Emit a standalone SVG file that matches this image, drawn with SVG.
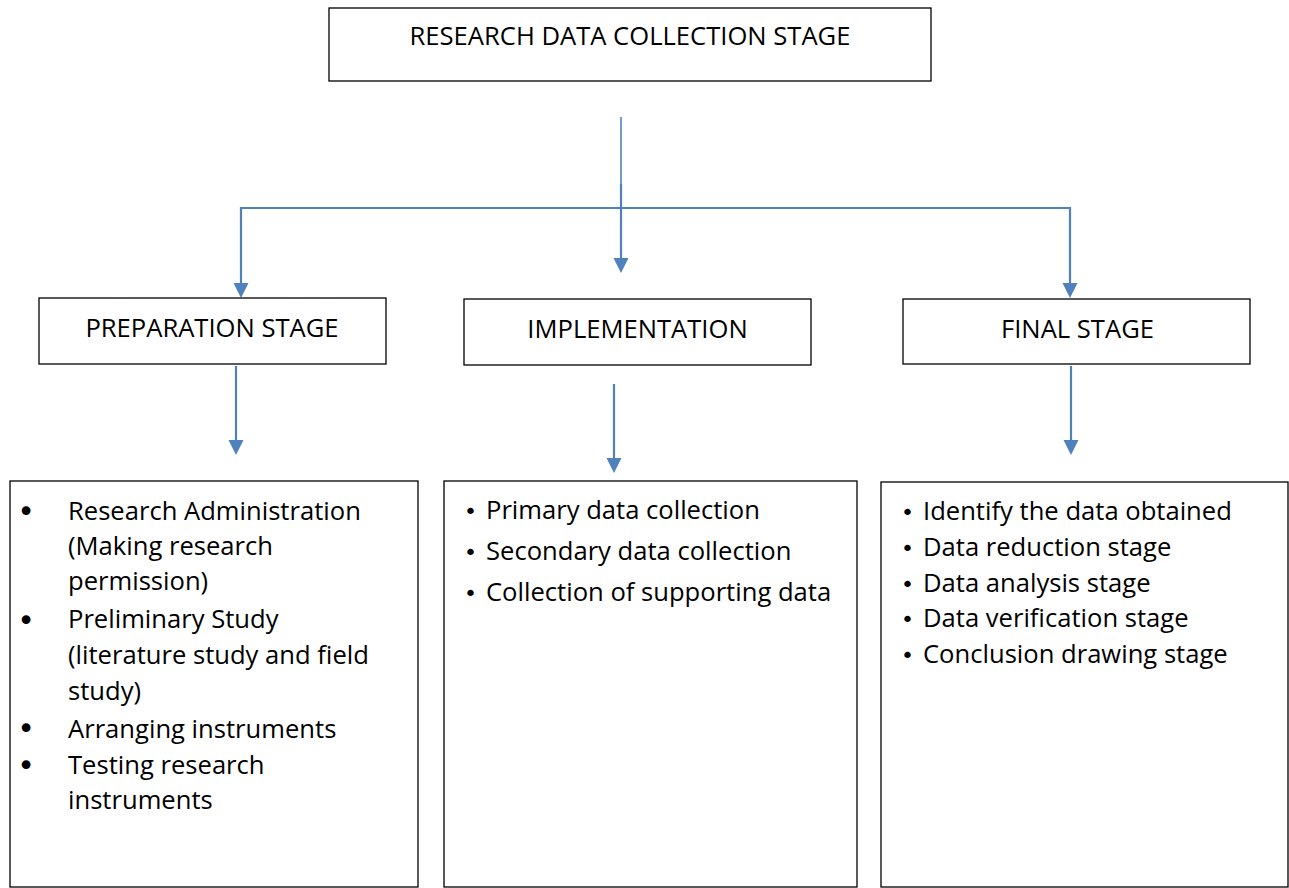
<svg xmlns="http://www.w3.org/2000/svg" width="1289" height="888" viewBox="0 0 1289 888">
<style>
.box{fill:#fff;stroke:#000;stroke-width:1.3}
.t{font-family:"Open Sans","Liberation Sans",sans-serif;font-size:25.6px;fill:#000}
.c{text-anchor:middle}
.con{stroke:#4F81BD;stroke-width:2.2;fill:none}
.b{font-family:"DejaVu Sans",sans-serif;font-size:30px;text-anchor:middle;fill:#000}
.s{font-family:"DejaVu Sans",sans-serif;font-size:22px}
</style>
<rect width="1289" height="888" fill="#fff"/>
<g id="connectors">
<line class="con" x1="621" y1="117" x2="621" y2="185" style="stroke-width:1.6"/>
<path class="con" d="M621,184 V258"/>
<polygon points="613.5,258 628.5,258 621,273" fill="#4F81BD"/>
<path class="con" d="M241,283 V208 H1070 V283"/>
<polygon points="233.5,283 248.5,283 241,298" fill="#4F81BD"/>
<polygon points="1062.5,283 1077.5,283 1070,298" fill="#4F81BD"/>
<path class="con" d="M236,366 V440"/>
<polygon points="228.5,440 243.5,440 236,455" fill="#4F81BD"/>
<path class="con" d="M614,384 V458"/>
<polygon points="606.5,458 621.5,458 614,473" fill="#4F81BD"/>
<path class="con" d="M1071,366 V440"/>
<polygon points="1063.5,440 1078.5,440 1071,455" fill="#4F81BD"/>
</g>
<g id="root">
<rect class="box" x="329" y="8" width="602" height="73"/>
<text class="t c" x="630" y="45">RESEARCH DATA COLLECTION STAGE</text>
</g>
<g id="preparation">
<rect class="box" x="39" y="298" width="347" height="66"/>
<text class="t c" x="212" y="337">PREPARATION STAGE</text>
</g>
<g id="implementation">
<rect class="box" x="464" y="299" width="347" height="66"/>
<text class="t c" x="637.5" y="338">IMPLEMENTATION</text>
</g>
<g id="final">
<rect class="box" x="903" y="299" width="347" height="65"/>
<text class="t c" x="1077.5" y="338">FINAL STAGE</text>
</g>
<g id="preparation-list">
<rect class="box" x="10" y="481" width="408" height="406"/>
<text class="b" x="26" y="522">•</text>
<text class="t" x="68" y="520">Research Administration</text>
<text class="t" x="68" y="555">(Making research</text>
<text class="t" x="68" y="590">permission)</text>
<text class="b" x="26" y="631">•</text>
<text class="t" x="68" y="628">Preliminary Study</text>
<text class="t" x="68" y="664">(literature study and field</text>
<text class="t" x="68" y="700">study)</text>
<text class="b" x="26" y="739">•</text>
<text class="t" x="68" y="738">Arranging instruments</text>
<text class="b" x="26" y="776">•</text>
<text class="t" x="68" y="774">Testing research</text>
<text class="t" x="68" y="809">instruments</text>
</g>
<g id="implementation-list">
<rect class="box" x="444" y="481" width="413" height="406"/>
<text class="t" y="519"><tspan class="s" x="464">•</tspan><tspan x="486">Primary data collection</tspan></text>
<text class="t" y="560"><tspan class="s" x="464">•</tspan><tspan x="486">Secondary data collection</tspan></text>
<text class="t" y="601"><tspan class="s" x="464">•</tspan><tspan x="486">Collection of supporting data</tspan></text>
</g>
<g id="final-list">
<rect class="box" x="881" y="482" width="407" height="405"/>
<text class="t" y="520"><tspan class="s" x="901">•</tspan><tspan x="923">Identify the data obtained</tspan></text>
<text class="t" y="556"><tspan class="s" x="901">•</tspan><tspan x="923">Data reduction stage</tspan></text>
<text class="t" y="592"><tspan class="s" x="901">•</tspan><tspan x="923">Data analysis stage</tspan></text>
<text class="t" y="627"><tspan class="s" x="901">•</tspan><tspan x="923">Data verification stage</tspan></text>
<text class="t" y="663"><tspan class="s" x="901">•</tspan><tspan x="923">Conclusion drawing stage</tspan></text>
</g>
</svg>
